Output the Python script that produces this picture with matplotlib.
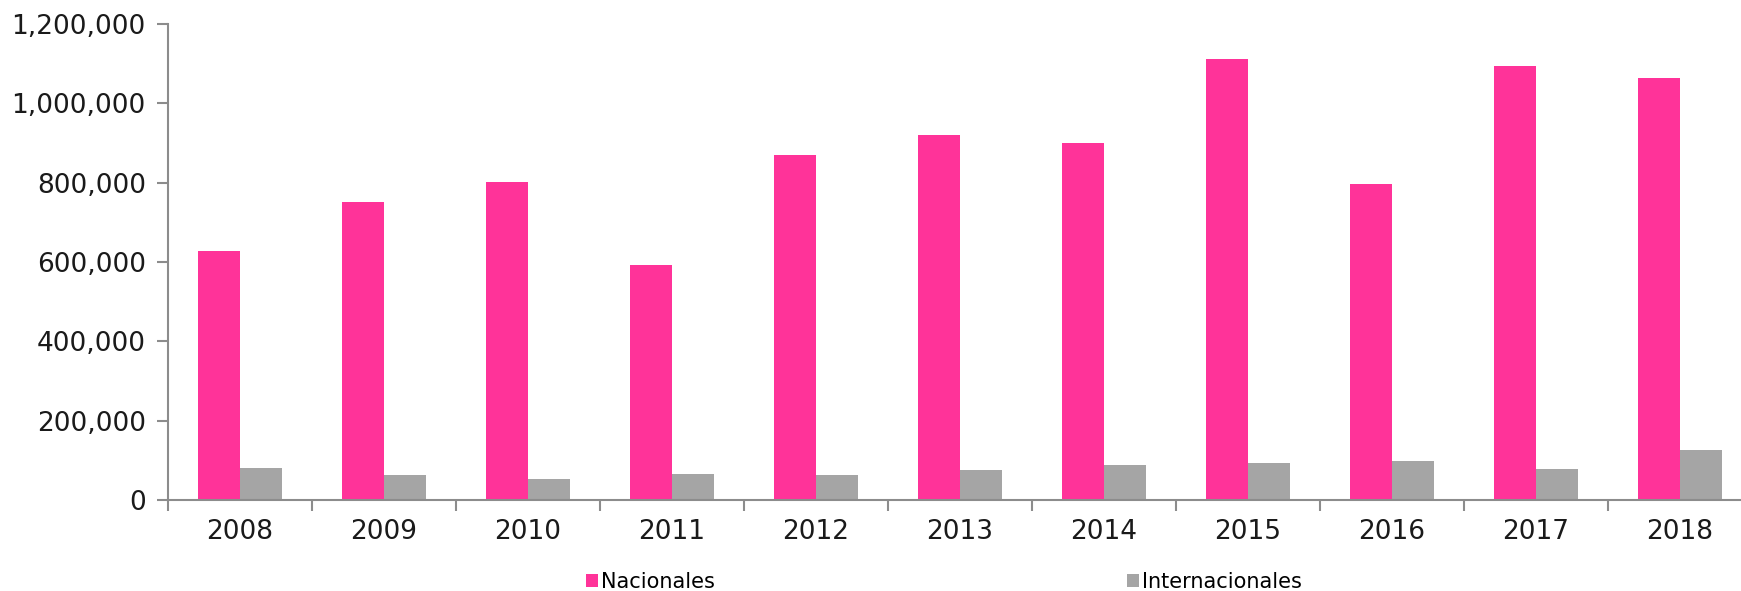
import numpy as np
import matplotlib
matplotlib.use('Agg')
import matplotlib.pyplot as plt
from matplotlib.ticker import FuncFormatter, FixedLocator

# datos
years = ['2008', '2009', '2010', '2011', '2012', '2013', '2014', '2015', '2016', '2017', '2018']
nacionales = [628000, 751000, 801000, 592000, 870000, 919000, 899000, 1113000, 796000, 1094000, 1063000]
internacionales = [80000, 64000, 53000, 66000, 64000, 75000, 89000, 94000, 99000, 78000, 125000]

pink = '#FF3399'
grey = '#A5A5A5'
axis_col = '#8C8C8C'

fig = plt.figure(figsize=(17.41, 5.91), dpi=100)
ax = fig.add_axes([168/1741, 1 - 500/591, 1584/1741, 476/591])

x = np.arange(len(years))
w = 42/144
ax.bar(x - w/2, nacionales, width=w, color=pink, label='Nacionales')
ax.bar(x + w/2, internacionales, width=w, color=grey, label='Internacionales')

ax.set_xlim(-0.5, len(years) - 0.5)
ax.set_ylim(0, 1200000)
ax.set_yticks(np.arange(0, 1200001, 200000))
ax.yaxis.set_major_formatter(FuncFormatter(lambda v, p: '{:,.0f}'.format(v)))

ax.set_xticks(x)
ax.set_xticklabels(years)
ax.xaxis.set_minor_locator(FixedLocator(np.arange(-0.5, len(years), 1)))
ax.tick_params(axis='x', which='major', length=0, pad=14)
ax.tick_params(axis='x', which='minor', length=8, width=1.5, color=axis_col)
ax.tick_params(axis='y', length=8, width=1.5, color=axis_col, pad=8)
for lab in ax.get_xticklabels() + ax.get_yticklabels():
    lab.set_fontsize(19)
    lab.set_color('#1a1a1a')

for s in ['top', 'right']:
    ax.spines[s].set_visible(False)
for s in ['left', 'bottom']:
    ax.spines[s].set_color(axis_col)
    ax.spines[s].set_linewidth(1.5)

leg = fig.legend(loc='center', bbox_to_anchor=(944/1741, 1 - 582/591), ncol=2,
                 frameon=False, handlelength=0.55, handleheight=0.55, handletextpad=0.15,
                 columnspacing=19.8,
                 prop={'family': ['Liberation Sans Narrow', 'DejaVu Sans'], 'size': 15})

plt.savefig('out.png', dpi=100)
